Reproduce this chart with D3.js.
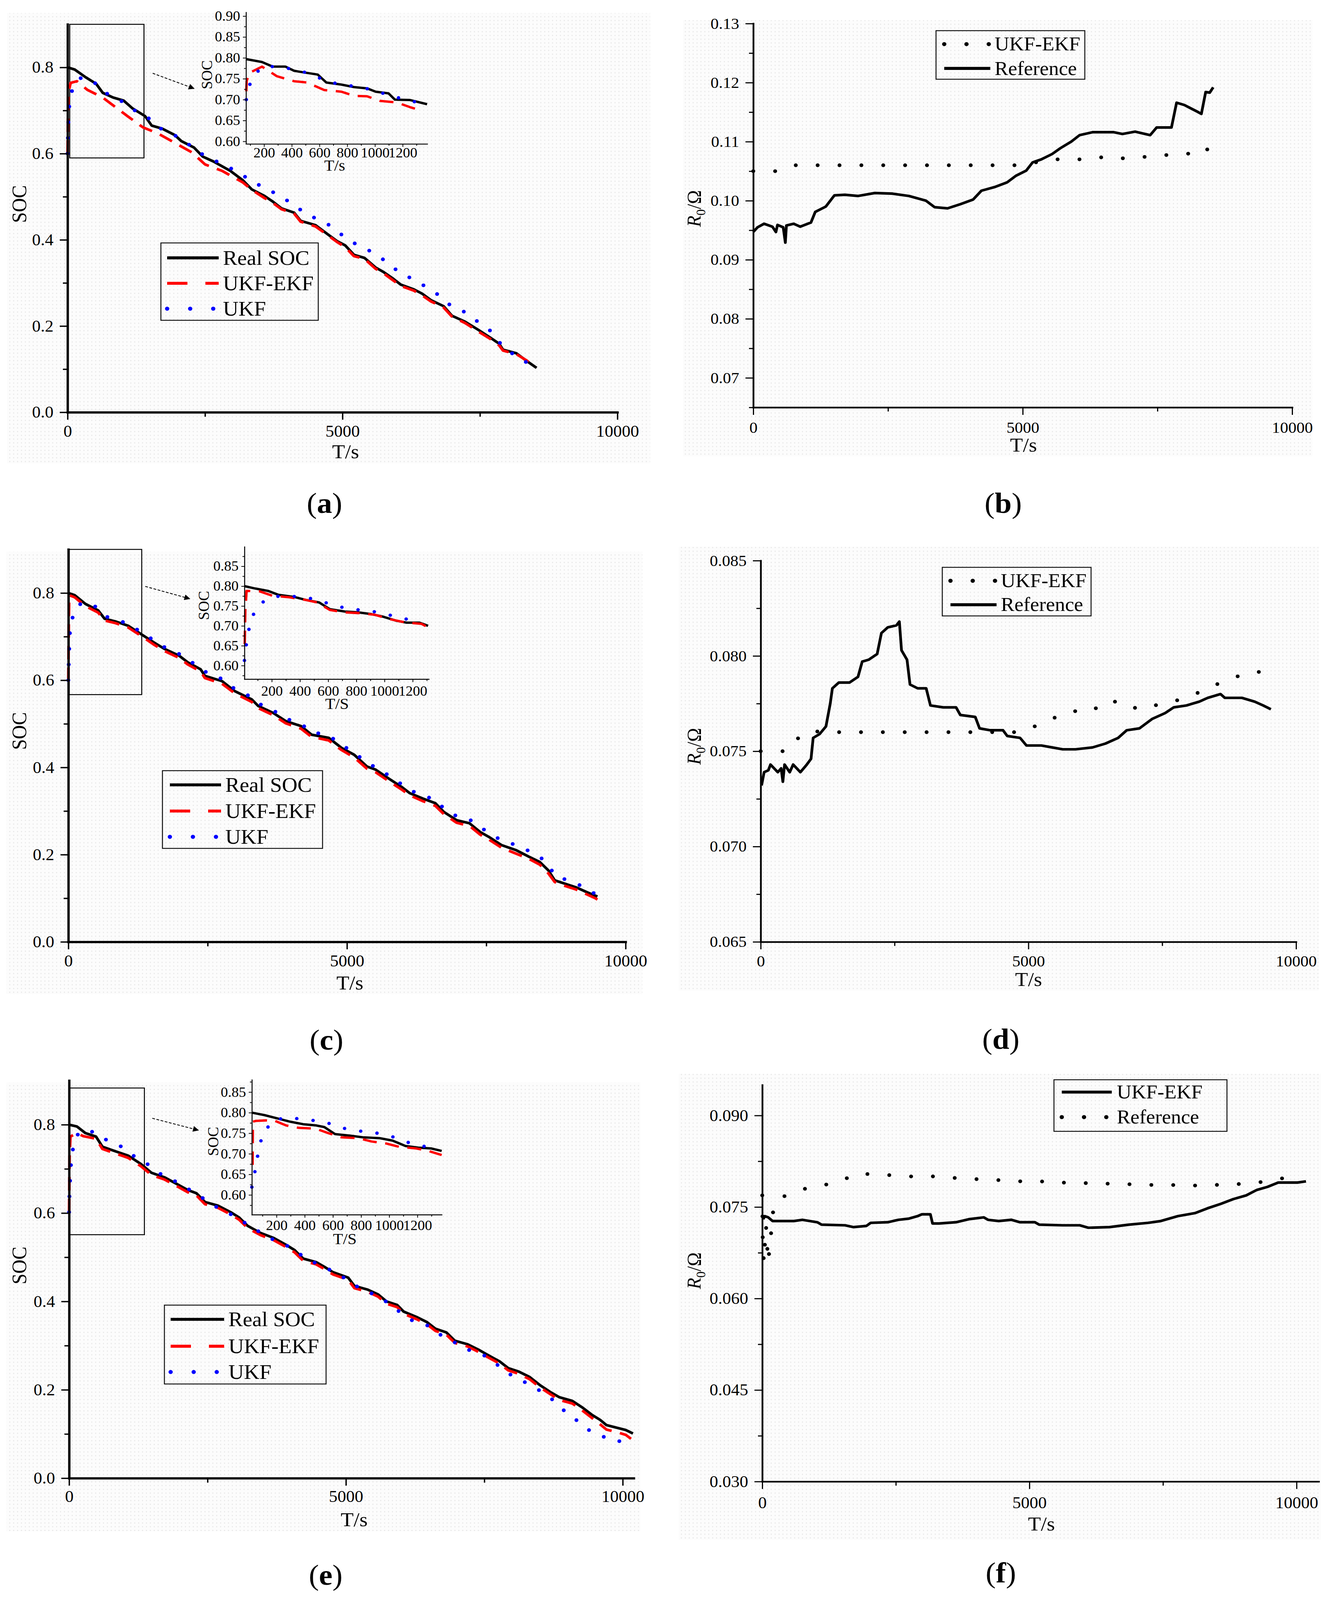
<!DOCTYPE html>
<html>
<head>
<meta charset="utf-8">
<script src="https://cdn.jsdelivr.net/npm/d3@7"></script>
<style>
  html, body { margin: 0; padding: 0; background: #fff; overflow: hidden; }
  svg { display: block; }
</style>
</head>
<body>
<script>
// ---------- data (time in s, value) ----------
// panel (a)
var aRealSOC = [[0,0.800],[130,0.795],[330,0.777],[520,0.762],[640,0.741],[830,0.730],[1020,0.723],[1180,0.705],[1410,0.687],[1530,0.665],[1720,0.658],[1950,0.643],[2070,0.629],[2300,0.614],[2460,0.593],[2650,0.582],[2960,0.560],[3190,0.538],[3350,0.517],[3580,0.502],[3740,0.488],[3890,0.473],[4120,0.463],[4240,0.444],[4510,0.434],[4740,0.412],[4900,0.397],[5050,0.387],[5210,0.365],[5400,0.358],[5600,0.336],[5750,0.325],[5910,0.311],[6060,0.296],[6300,0.285],[6450,0.275],[6610,0.260],[6840,0.246],[6990,0.224],[7230,0.210],[7460,0.192],[7690,0.173],[7850,0.159],[7920,0.145],[8160,0.137],[8350,0.119],[8530,0.103]];
var aUkfEkf = [[0,0.600],[15,0.741],[55,0.764],[170,0.768],[360,0.748],[640,0.730],[870,0.708],[1100,0.686],[1370,0.661],[1640,0.647],[1950,0.625],[2260,0.603],[2500,0.575],[2810,0.560],[3190,0.533],[3350,0.516],[3580,0.497],[3740,0.485],[3890,0.471],[4120,0.461],[4240,0.442],[4510,0.431],[4740,0.410],[4900,0.395],[5050,0.383],[5210,0.362],[5400,0.356],[5600,0.333],[5750,0.322],[5910,0.307],[6060,0.293],[6300,0.282],[6450,0.271],[6610,0.257],[6840,0.243],[6990,0.222],[7230,0.207],[7460,0.188],[7690,0.170],[7850,0.155],[7920,0.143],[8160,0.135],[8350,0.120],[8450,0.110]];
var aUkf = [[0,0.600],[10,0.654],[25,0.705],[90,0.752],[170,0.762],[250,0.777],[480,0.766],[670,0.742],[945,0.725],[1180,0.703],[1450,0.685],[1645,0.661],[1915,0.645],[2150,0.627],[2355,0.605],[2610,0.588],[2880,0.571],[3130,0.556],[3360,0.533],[3635,0.520],[3850,0.500],[4110,0.484],[4320,0.460],[4570,0.447],[4705,0.439],[4915,0.419],[5130,0.397],[5390,0.382],[5620,0.365],[5845,0.345],[6050,0.322],[6320,0.307],[6550,0.288],[6760,0.271],[6980,0.246],[7250,0.231],[7460,0.210],[7680,0.190],[7845,0.163],[8080,0.137],[8310,0.119],[8500,0.101]];
var aInsetReal = [[70,0.797],[185,0.790],[262,0.779],[355,0.779],[417,0.769],[510,0.764],[587,0.760],[649,0.741],[757,0.736],[850,0.730],[943,0.727],[1005,0.719],[1098,0.715],[1144,0.700],[1253,0.699],[1376,0.689]];
var aInsetUkfEkf = [[72,0.720],[75,0.745],[95,0.764],[185,0.779],[293,0.756],[417,0.744],[510,0.741],[634,0.723],[757,0.719],[850,0.709],[943,0.708],[1036,0.697],[1160,0.693],[1253,0.682],[1330,0.674]];
var aInsetUkf = [[72,0.700],[107,0.749],[185,0.779],[308,0.779],[432,0.771],[534,0.762],[649,0.744],[757,0.736],[897,0.730],[1005,0.721],[1113,0.709],[1237,0.699],[1355,0.689]];
var aZoomBox = [40, 1390, 0.59, 0.9];

// panel (b)
var bReference = [[0,0.0947],[80,0.0955],[200,0.0961],[355,0.0956],[420,0.0947],[450,0.0959],[555,0.0955],[595,0.0929],[615,0.0958],[750,0.0961],[870,0.0956],[1070,0.0963],[1150,0.0981],[1345,0.0990],[1505,0.1009],[1700,0.1010],[1940,0.1008],[2255,0.1013],[2575,0.1012],[2890,0.1008],[3205,0.1000],[3365,0.0989],[3605,0.0987],[3840,0.0994],[4080,0.1002],[4235,0.1017],[4475,0.1023],[4710,0.1031],[4870,0.1042],[5065,0.1051],[5185,0.1065],[5345,0.1070],[5545,0.1079],[5700,0.1089],[5900,0.1100],[6055,0.1111],[6295,0.1116],[6690,0.1116],[6850,0.1113],[7085,0.1117],[7365,0.1111],[7485,0.1124],[7760,0.1124],[7855,0.1166],[8000,0.1162],[8235,0.1151],[8315,0.1147],[8395,0.1184],[8470,0.1183],[8535,0.1192]];
var bUkfEkf = [[0,0.1050],[435,0.1050],[500,0.1052],[710,0.1060],[4950,0.1060],[5545,0.1070],[6215,0.1070],[6570,0.1075],[6930,0.1071],[7245,0.1074],[7880,0.1079],[8195,0.1080],[8420,0.1082],[8435,0.1100]];

// panel (c)
var cRealSOC = [[0,0.800],[115,0.795],[306,0.775],[536,0.760],[651,0.741],[842,0.735],[1072,0.725],[1302,0.706],[1531,0.687],[1723,0.672],[1991,0.656],[2144,0.641],[2374,0.625],[2450,0.610],[2757,0.598],[2986,0.575],[3292,0.556],[3407,0.541],[3675,0.525],[3905,0.506],[4173,0.495],[4365,0.475],[4671,0.468],[4900,0.445],[5130,0.429],[5360,0.402],[5513,0.395],[5743,0.375],[5973,0.356],[6126,0.341],[6355,0.329],[6585,0.318],[6738,0.298],[6968,0.279],[7198,0.272],[7389,0.252],[7542,0.241],[7772,0.222],[8040,0.210],[8270,0.195],[8461,0.183],[8614,0.164],[8729,0.141],[8920,0.133],[9112,0.125],[9303,0.114],[9456,0.106],[9495,0.104]];
var cUkfEkf = [[0,0.598],[8,0.729],[15,0.795],[115,0.790],[306,0.770],[536,0.755],[651,0.737],[842,0.731],[1072,0.721],[1302,0.702],[1531,0.682],[1723,0.667],[1991,0.651],[2144,0.636],[2374,0.620],[2450,0.605],[2757,0.592],[2986,0.570],[3292,0.550],[3407,0.536],[3675,0.520],[3905,0.501],[4173,0.489],[4365,0.470],[4671,0.462],[4900,0.440],[5130,0.423],[5360,0.397],[5513,0.389],[5743,0.369],[5973,0.350],[6126,0.336],[6355,0.323],[6585,0.312],[6738,0.293],[6968,0.273],[7198,0.266],[7389,0.246],[7542,0.235],[7772,0.216],[8040,0.202],[8270,0.190],[8461,0.177],[8614,0.157],[8729,0.137],[8920,0.128],[9112,0.120],[9303,0.109],[9456,0.100],[9495,0.097]];
var cUkf = [[0,0.600],[10,0.652],[25,0.706],[90,0.754],[230,0.777],[400,0.775],[536,0.765],[700,0.745],[900,0.737],[1100,0.728],[1302,0.710],[1531,0.692],[1723,0.676],[1991,0.660],[2144,0.646],[2374,0.630],[2500,0.615],[2757,0.603],[2986,0.580],[3292,0.561],[3407,0.547],[3675,0.531],[3905,0.512],[4173,0.500],[4365,0.481],[4671,0.474],[4900,0.451],[5130,0.435],[5360,0.409],[5513,0.401],[5743,0.382],[5973,0.362],[6126,0.348],[6355,0.336],[6585,0.326],[6738,0.306],[6968,0.288],[7198,0.281],[7389,0.262],[7542,0.252],[7772,0.232],[8040,0.222],[8270,0.208],[8461,0.195],[8614,0.177],[8729,0.152],[8920,0.143],[9112,0.135],[9303,0.120],[9456,0.110],[9495,0.108]];
var cInsetReal = [[6,0.800],[82,0.794],[173,0.788],[248,0.778],[355,0.773],[445,0.765],[536,0.759],[612,0.742],[718,0.736],[809,0.734],[900,0.730],[991,0.723],[1082,0.713],[1157,0.708],[1248,0.708],[1309,0.700]];
var cInsetUkfEkf = [[8,0.654],[12,0.738],[21,0.788],[112,0.787],[203,0.776],[324,0.772],[445,0.765],[521,0.759],[612,0.740],[718,0.734],[824,0.732],[930,0.728],[1036,0.717],[1142,0.709],[1263,0.705],[1309,0.696]];
var cInsetUkf = [[6,0.613],[21,0.659],[45,0.705],[82,0.740],[158,0.767],[264,0.776],[400,0.773],[512,0.767],[642,0.751],[764,0.742],[894,0.738],[1006,0.730],[1112,0.720],[1242,0.711]];
var cZoomBox = [15, 1317, 0.567, 0.9];

// panel (d)
var dReference = [[16,0.0732],[64,0.0739],[143,0.0740],[183,0.0743],[319,0.0739],[382,0.0741],[414,0.0734],[446,0.0743],[542,0.0739],[606,0.0743],[741,0.0739],[861,0.0743],[940,0.0746],[980,0.0757],[1100,0.0759],[1219,0.0763],[1299,0.0775],[1339,0.0783],[1458,0.0786],[1657,0.0786],[1817,0.0789],[1896,0.0797],[2016,0.0798],[2175,0.0801],[2255,0.0812],[2374,0.0815],[2534,0.0816],[2590,0.0818],[2630,0.0803],[2733,0.0798],[2789,0.0785],[2932,0.0783],[3091,0.0783],[3171,0.0774],[3410,0.0773],[3649,0.0773],[3729,0.0769],[4008,0.0768],[4088,0.0762],[4287,0.0761],[4526,0.0761],[4605,0.0758],[4845,0.0757],[4964,0.0753],[5243,0.0753],[5442,0.0752],[5641,0.0751],[5880,0.0751],[6199,0.0752],[6438,0.0754],[6677,0.0757],[6836,0.0761],[7075,0.0762],[7315,0.0767],[7554,0.0770],[7713,0.0773],[7952,0.0774],[8191,0.0776],[8350,0.0778],[8589,0.0780],[8669,0.0778],[8988,0.0778],[9227,0.0776],[9386,0.0774],[9530,0.0772]];
var dUkfEkf = [[0,0.0750],[462,0.0750],[622,0.0756],[821,0.0758],[980,0.0761],[1100,0.0760],[4845,0.0760],[5203,0.0764],[5522,0.0768],[5800,0.0771],[6199,0.0771],[6398,0.0776],[6797,0.0776],[7036,0.0772],[7355,0.0774],[7713,0.0776],[7992,0.0779],[8311,0.0782],[8510,0.0785],[8789,0.0788],[9068,0.0791],[9466,0.0792]];

// panel (e)
var eRealSOC = [[0,0.800],[139,0.796],[293,0.781],[486,0.773],[602,0.750],[833,0.740],[1065,0.730],[1296,0.711],[1489,0.691],[1720,0.681],[1913,0.668],[2145,0.652],[2299,0.645],[2454,0.625],[2685,0.617],[2917,0.602],[3071,0.590],[3225,0.571],[3457,0.555],[3688,0.544],[3920,0.528],[4074,0.516],[4228,0.497],[4460,0.489],[4614,0.478],[4768,0.466],[5039,0.454],[5154,0.435],[5386,0.427],[5579,0.416],[5733,0.400],[5926,0.392],[6042,0.377],[6273,0.365],[6466,0.353],[6620,0.338],[6813,0.330],[6968,0.311],[7199,0.303],[7392,0.291],[7546,0.280],[7778,0.264],[7932,0.249],[8125,0.241],[8318,0.229],[8511,0.210],[8704,0.194],[8858,0.183],[9089,0.175],[9282,0.159],[9437,0.144],[9591,0.132],[9707,0.120],[9900,0.114],[10054,0.109],[10185,0.101]];
var eUkfEkf = [[0,0.602],[8,0.726],[23,0.773],[139,0.781],[255,0.774],[486,0.768],[602,0.745],[833,0.735],[1065,0.725],[1296,0.706],[1489,0.686],[1720,0.676],[1913,0.663],[2145,0.647],[2299,0.640],[2454,0.620],[2685,0.612],[2917,0.597],[3071,0.585],[3225,0.566],[3457,0.550],[3688,0.539],[3920,0.523],[4074,0.511],[4228,0.492],[4460,0.484],[4614,0.473],[4768,0.461],[5039,0.449],[5154,0.430],[5386,0.422],[5579,0.411],[5733,0.395],[5926,0.387],[6042,0.372],[6273,0.360],[6466,0.348],[6620,0.333],[6813,0.325],[6968,0.306],[7199,0.298],[7392,0.286],[7546,0.275],[7778,0.259],[7932,0.244],[8125,0.236],[8318,0.224],[8511,0.205],[8704,0.189],[8858,0.177],[9089,0.169],[9282,0.152],[9437,0.137],[9591,0.122],[9707,0.110],[9900,0.104],[10054,0.098],[10150,0.089]];
var eUkf = [[0,0.602],[8,0.652],[31,0.707],[77,0.753],[177,0.784],[448,0.784],[679,0.765],[949,0.750],[1181,0.728],[1412,0.711],[1644,0.689],[1914,0.672],[2145,0.655],[2377,0.637],[2608,0.617],[2840,0.603],[3110,0.583],[3364,0.563],[3611,0.544],[3843,0.532],[4074,0.517],[4267,0.497],[4537,0.482],[4768,0.468],[5015,0.450],[5231,0.431],[5502,0.416],[5772,0.396],[6003,0.373],[6196,0.357],[6466,0.346],[6736,0.322],[6968,0.307],[7199,0.291],[7469,0.280],[7700,0.260],[7932,0.237],[8179,0.221],[8434,0.203],[8665,0.186],[8873,0.159],[9089,0.140],[9321,0.113],[9552,0.099],[9822,0.085],[10092,0.082]];
var eInsetReal = [[25,0.800],[115,0.794],[206,0.786],[297,0.778],[388,0.772],[479,0.769],[539,0.765],[615,0.748],[721,0.744],[812,0.740],[933,0.738],[1024,0.732],[1115,0.719],[1206,0.715],[1297,0.713],[1372,0.707]];
var eInsetUkfEkf = [[30,0.673],[32,0.778],[55,0.780],[176,0.782],[267,0.769],[358,0.763],[479,0.761],[570,0.750],[661,0.740],[782,0.738],[873,0.730],[979,0.725],[1070,0.717],[1191,0.713],[1267,0.708],[1372,0.697]];
var eInsetUkf = [[25,0.619],[49,0.661],[70,0.703],[100,0.747],[176,0.782],[282,0.788],[412,0.783],[539,0.778],[661,0.763],[797,0.755],[918,0.750],[1039,0.740],[1170,0.723],[1297,0.715]];
var eZoomBox = [7, 1360, 0.551, 0.883];

// panel (f)
var fUkfEkf = [[16,0.0730],[48,0.0735],[112,0.0733],[192,0.0727],[591,0.0727],[751,0.0729],[1030,0.0725],[1110,0.0721],[1549,0.0720],[1709,0.0717],[1949,0.0719],[2029,0.0724],[2348,0.0725],[2548,0.0729],[2747,0.0731],[2907,0.0735],[2987,0.0738],[3147,0.0738],[3187,0.0723],[3307,0.0723],[3626,0.0725],[3866,0.0730],[4145,0.0733],[4225,0.0729],[4425,0.0727],[4664,0.0729],[4824,0.0725],[5103,0.0725],[5183,0.0721],[5623,0.0720],[5942,0.0720],[6102,0.0716],[6501,0.0717],[6861,0.0721],[7220,0.0724],[7460,0.0727],[7779,0.0735],[8099,0.0740],[8338,0.0748],[8578,0.0755],[8818,0.0763],[9057,0.0769],[9257,0.0778],[9457,0.0783],[9656,0.0790],[10016,0.0790],[10176,0.0792]];
var fReference = [[0,0.0769],[10,0.0690],[30,0.0660],[70,0.0719],[110,0.0660],[150,0.0693],[210,0.0749],[335,0.0765],[630,0.0775],[910,0.0783],[1215,0.0787],[1485,0.0792],[1710,0.0804],[2030,0.0804],[2430,0.0802],[2765,0.0800],[3085,0.0801],[3465,0.0798],[3785,0.0797],[4120,0.0795],[4440,0.0794],[4840,0.0792],[5200,0.0792],[5605,0.0790],[6140,0.0789],[6565,0.0788],[6980,0.0787],[7340,0.0786],[7700,0.0786],[8020,0.0785],[8420,0.0786],[8820,0.0787],[9135,0.0789],[9455,0.0792],[9735,0.0797],[10095,0.0794]];

// ticks
var timeTicks = [0, 5000, 10000];
var timeMinor = [2500, 7500];
var socTicks = [0, 0.2, 0.4, 0.6, 0.8];
var socMinor = [0.1, 0.3, 0.5, 0.7];
var insetTimeTicks = [200, 400, 600, 800, 1000, 1200];
var insetTimeMinor = [100, 300, 500, 700, 900, 1100, 1300];
var insetSocTicks = [0.60, 0.65, 0.70, 0.75, 0.80, 0.85, 0.90];
var insetSocMinor = [0.575, 0.625, 0.675, 0.725, 0.775, 0.825, 0.875];
var bTicks = [0.07, 0.08, 0.09, 0.10, 0.11, 0.12, 0.13];
var bMinor = [0.065, 0.075, 0.085, 0.095, 0.105, 0.115, 0.125];
var dTicks = [0.065, 0.070, 0.075, 0.080, 0.085];
var dMinor = [0.0675, 0.0725, 0.0775, 0.0825];
var fTicks = [0.030, 0.045, 0.060, 0.075, 0.090];
var fMinor = [0.0375, 0.0525, 0.0675, 0.0825];

// ---------- drawing ----------
var W = 3411, H = 4281;
var FONT = "'Liberation Serif','Times New Roman',serif";

var styles = {
  real:   {stroke: "#000", w: 7, dash: null, cap: "butt", legDash: null},
  ukfekf: {stroke: "#ff0000", w: 7, dash: "36 22", cap: "butt", legDash: "52 46"},
  ukf:    {stroke: "#0000ff", w: 10, dash: "0 42", cap: "round", legDash: "0 59"},
  solidK: {stroke: "#000", w: 7, dash: null, cap: "butt", legDash: null},
  dotK:   {stroke: "#000", w: 10, dash: "0 56", cap: "round", legDash: "0 57"}
};

// fit the whole figure into whatever viewport the page gets
var vw = window.innerWidth || W, vh = window.innerHeight || H;
var svg = d3.select("body").append("svg")
    .attr("width", vw)
    .attr("height", vh)
    .attr("viewBox", "0 0 " + W + " " + H)
    .attr("preserveAspectRatio", "none");

var defs = svg.append("defs");
var pat = defs.append("pattern")
    .attr("id", "dots")
    .attr("width", 10).attr("height", 10)
    .attr("patternUnits", "userSpaceOnUse");
pat.append("rect").attr("width", 10).attr("height", 10).attr("fill", "#fcfcfc");
pat.append("circle").attr("cx", 5).attr("cy", 5).attr("r", 1.4).attr("fill", "#e2e2e2");

defs.append("marker")
    .attr("id", "arrow")
    .attr("viewBox", "0 0 10 10")
    .attr("refX", 9).attr("refY", 5)
    .attr("markerWidth", 7).attr("markerHeight", 7)
    .attr("markerUnits", "strokeWidth")
    .attr("orient", "auto")
    .append("path").attr("d", "M0,0L10,5L0,10z").attr("fill", "#000");

svg.append("rect").attr("width", W).attr("height", H).attr("fill", "#fff");

function styleAxis(sel, domainW, tickW, font) {
  sel.attr("font-family", FONT).attr("font-size", font);
  sel.select(".domain").attr("stroke", "#000").attr("stroke-width", domainW).attr("stroke-linecap", "square");
  sel.selectAll(".tick line").attr("stroke", "#000").attr("stroke-width", tickW);
  sel.selectAll(".tick text").attr("fill", "#000");
}

function addAxes(g, x, y, p) {
  var xa = g.append("g").attr("transform", "translate(0," + p.bottom + ")")
      .call(d3.axisBottom(x).tickValues(p.xTicks).tickFormat(p.xFmt)
        .tickSize(p.tickLen).tickSizeOuter(0).tickPadding(p.xPad));
  styleAxis(xa, p.axisW, p.tickW, p.tickFont);
  var xm = g.append("g").attr("transform", "translate(0," + p.bottom + ")")
      .call(d3.axisBottom(x).tickValues(p.xMinor).tickFormat("").tickSize(p.minorLen).tickSizeOuter(0));
  xm.select(".domain").remove();
  styleAxis(xm, 0, p.tickW, p.tickFont);

  var ya = g.append("g").attr("transform", "translate(" + p.left + ",0)")
      .call(d3.axisLeft(y).tickValues(p.yTicks).tickFormat(d3.format(p.yFmt))
        .tickSize(p.tickLen).tickSizeOuter(0).tickPadding(p.yPad));
  styleAxis(ya, p.axisW, p.tickW, p.tickFont);
  var ym = g.append("g").attr("transform", "translate(" + p.left + ",0)")
      .call(d3.axisLeft(y).tickValues(p.yMinor).tickFormat("").tickSize(p.minorLen).tickSizeOuter(0));
  ym.select(".domain").remove();
  styleAxis(ym, 0, p.tickW, p.tickFont);
}

function addSeries(g, x, y, series, scaleW) {
  var line = d3.line().x(function(d) { return x(d[0]); }).y(function(d) { return y(d[1]); });
  series.forEach(function(s) {
    var st = styles[s.style];
    var k = scaleW || 1;
    g.append("path").datum(s.data)
      .attr("d", line)
      .attr("fill", "none")
      .attr("stroke", st.stroke)
      .attr("stroke-width", st.w * k)
      .attr("stroke-linecap", st.cap)
      .attr("stroke-linejoin", "round")
      .attr("stroke-dasharray", st.dash);
  });
}

function addLegend(g, L) {
  g.append("rect")
    .attr("x", L.box[0]).attr("y", L.box[1])
    .attr("width", L.box[2] - L.box[0]).attr("height", L.box[3] - L.box[1])
    .attr("fill", "none").attr("stroke", "#111").attr("stroke-width", 2.5);
  L.items.forEach(function(it, i) {
    var st = styles[it.style];
    var yy = L.rows[i];
    g.append("line")
      .attr("x1", L.sample[0]).attr("x2", L.sample[1])
      .attr("y1", yy).attr("y2", yy)
      .attr("stroke", st.stroke).attr("stroke-width", st.w + 1)
      .attr("stroke-linecap", st.cap)
      .attr("stroke-dasharray", st.legDash);
    g.append("text")
      .attr("x", L.textX).attr("y", yy + L.font * 0.33)
      .attr("font-family", FONT).attr("font-size", L.font)
      .attr("fill", "#000")
      .text(it.label);
  });
}

function addYLabelR0(g, pos) {
  var t = g.append("text")
    .attr("transform", "translate(" + pos[0] + "," + pos[1] + ") rotate(-90)")
    .attr("text-anchor", "middle")
    .attr("font-family", FONT).attr("font-size", 50).attr("fill", "#000");
  t.append("tspan").attr("font-style", "italic").text("R");
  t.append("tspan").attr("font-size", 34).attr("dy", 12).text("0");
  t.append("tspan").attr("dy", -12).text("/\u03A9");
}

function addPlainLabel(g, text, pos, font, rotate) {
  g.append("text")
    .attr("transform", "translate(" + pos[0] + "," + pos[1] + ")" + (rotate ? " rotate(-90)" : ""))
    .attr("text-anchor", "middle")
    .attr("font-family", FONT).attr("font-size", font).attr("fill", "#000")
    .text(text);
}

function addPanelLabel(letter, pos) {
  var t = svg.append("text")
    .attr("x", pos[0]).attr("y", pos[1])
    .attr("text-anchor", "middle")
    .attr("font-family", FONT).attr("font-size", 78).attr("fill", "#000");
  t.append("tspan").text("(");
  t.append("tspan").attr("font-weight", "bold").text(letter);
  t.append("tspan").text(")");
}

function drawPanel(p) {
  var g = svg.append("g");
  g.append("rect")
    .attr("x", p.bg[0]).attr("y", p.bg[1])
    .attr("width", p.bg[2] - p.bg[0]).attr("height", p.bg[3] - p.bg[1])
    .attr("fill", "url(#dots)");

  var x = d3.scaleLinear().domain(p.xDomain).range([p.left, p.right]);
  var y = d3.scaleLinear().domain(p.yDomain).range([p.bottom, p.top]);

  if (p.zoomBox) {
    var zb = p.zoomBox;
    g.append("rect")
      .attr("x", x(zb[0])).attr("y", y(zb[3]))
      .attr("width", x(zb[1]) - x(zb[0])).attr("height", y(zb[2]) - y(zb[3]))
      .attr("fill", "none").attr("stroke", "#000").attr("stroke-width", 2.5);
  }

  addSeries(g, x, y, p.series);
  addAxes(g, x, y, p);

  if (p.inset) {
    var q = p.inset;
    var xi = d3.scaleLinear().domain(q.xDomain).range([q.left, q.right]);
    var yi = d3.scaleLinear().domain(q.yDomain).range([q.bottom, q.top]);
    q.yTicks = insetSocTicks.filter(function(v) { return v >= q.yDomain[0] && v <= q.yDomain[1] + 1e-9; });
    q.yMinor = insetSocMinor.filter(function(v) { return v >= q.yDomain[0] && v <= q.yDomain[1]; });
    addSeries(g, xi, yi, q.series, 0.9);
    addAxes(g, xi, yi, q);
    addPlainLabel(g, "SOC", q.ylab, 40, true);
    addPlainLabel(g, q.xlabText, q.xlab, 42, false);
    g.append("line")
      .attr("x1", q.arrow[0]).attr("y1", q.arrow[1])
      .attr("x2", q.arrow[2]).attr("y2", q.arrow[3])
      .attr("stroke", "#000").attr("stroke-width", 2.2)
      .attr("stroke-dasharray", "7 4")
      .attr("marker-end", "url(#arrow)");
  }

  if (p.yLabel === "R0") addYLabelR0(g, p.ylab);
  else addPlainLabel(g, p.yLabel, p.ylab, 52, true);
  addPlainLabel(g, "T/s", p.xlab, 54, false);

  addLegend(g, p.legend);
}

var socBase = {
  xFmt: d3.format("d"), yFmt: ".1f",
  xTicks: timeTicks, xMinor: timeMinor, yTicks: socTicks, yMinor: socMinor,
  tickLen: 20, minorLen: 12, axisW: 6, tickW: 3.5, tickFont: 44, yPad: 16
};
var rBase = {
  xFmt: d3.format("d"),
  xTicks: timeTicks, xMinor: timeMinor,
  tickLen: 20, minorLen: 11, axisW: 4.5, tickW: 3, tickFont: 42, yPad: 16
};
var insetBase = {
  xFmt: d3.format("d"), yFmt: ".2f",
  xTicks: insetTimeTicks, xMinor: insetTimeMinor,
  tickLen: 8, minorLen: 5, axisW: 2.5, tickW: 2, tickFont: 37, yPad: 7
};

var socLegendItems = [
  {style: "real", label: "Real SOC"},
  {style: "ukfekf", label: "UKF-EKF"},
  {style: "ukf", label: "UKF"}
];

// (a)
drawPanel(Object.assign({}, socBase, {
  bg: [18, 35, 1665, 1240],
  left: 173, right: 1581, top: 65, bottom: 1103,
  xDomain: [0, 10000], yDomain: [0, 0.9], xPad: 14.5,
  series: [
    {style: "real", data: aRealSOC},
    {style: "ukfekf", data: aUkfEkf},
    {style: "ukf", data: aUkf}
  ],
  zoomBox: aZoomBox,
  inset: Object.assign({}, insetBase, {
    left: 630, right: 1094, top: 33, bottom: 385,
    xDomain: [70, 1377], yDomain: [0.594, 0.909], xPad: 2,
    series: [
      {style: "real", data: aInsetReal},
      {style: "ukfekf", data: aInsetUkfEkf},
      {style: "ukf", data: aInsetUkf}
    ],
    ylab: [543, 200], xlab: [857, 457], xlabText: "T/s",
    arrow: [391, 196, 497, 237]
  }),
  yLabel: "SOC", ylab: [67, 546], xlab: [885, 1226],
  legend: {box: [412, 650, 815, 857], rows: [690, 758, 826], sample: [428, 560], textX: 571, font: 55, items: socLegendItems}
}));

// (b)
drawPanel(Object.assign({}, rBase, {
  bg: [1749, 54, 3361, 1221],
  left: 1929, right: 3309, top: 63, bottom: 1090,
  xDomain: [0, 10000], yDomain: [0.065, 0.13], xPad: 18,
  yTicks: bTicks, yMinor: bMinor, yFmt: ".2f",
  series: [
    {style: "solidK", data: bReference},
    {style: "dotK", data: bUkfEkf}
  ],
  yLabel: "R0", ylab: [1794, 558], xlab: [2621, 1208],
  legend: {box: [2397, 82, 2778, 212], rows: [118, 183], sample: [2418, 2536], textX: 2547, font: 52,
    items: [{style: "dotK", label: "UKF-EKF"}, {style: "solidK", label: "Reference"}]}
}));

// (c)
drawPanel(Object.assign({}, socBase, {
  bg: [16, 1476, 1645, 2660],
  left: 175, right: 1602, top: 1470, bottom: 2520,
  xDomain: [0, 10000], yDomain: [0, 0.9], xPad: 14.5,
  series: [
    {style: "real", data: cRealSOC},
    {style: "ukfekf", data: cUkfEkf},
    {style: "ukf", data: cUkf}
  ],
  zoomBox: cZoomBox,
  inset: Object.assign({}, insetBase, {
    left: 626, right: 1098, top: 1463, bottom: 1817,
    xDomain: [6, 1314], yDomain: [0.566, 0.899], xPad: 10,
    series: [
      {style: "real", data: cInsetReal},
      {style: "ukfekf", data: cInsetUkfEkf},
      {style: "ukf", data: cInsetUkf}
    ],
    ylab: [535, 1620], xlab: [863, 1897], xlabText: "T/S",
    arrow: [372, 1569, 486, 1602]
  }),
  yLabel: "SOC", ylab: [67, 1956], xlab: [896, 2647],
  legend: {box: [416, 2062, 826, 2270], rows: [2100, 2170, 2239], sample: [435, 566], textX: 577, font: 55, items: socLegendItems}
}));

// (d)
drawPanel(Object.assign({}, rBase, {
  bg: [1738, 1463, 3377, 2651],
  left: 1948, right: 3319, top: 1500, bottom: 2520,
  xDomain: [0, 10000], yDomain: [0.065, 0.085], xPad: 16,
  yTicks: dTicks, yMinor: dMinor, yFmt: ".3f",
  series: [
    {style: "solidK", data: dReference},
    {style: "dotK", data: dUkfEkf}
  ],
  yLabel: "R0", ylab: [1794, 1997], xlab: [2634, 2638],
  legend: {box: [2413, 1518, 2794, 1648], rows: [1554, 1618], sample: [2434, 2552], textX: 2563, font: 52,
    items: [{style: "dotK", label: "UKF-EKF"}, {style: "solidK", label: "Reference"}]}
}));

// (e)
drawPanel(Object.assign({}, socBase, {
  bg: [16, 2896, 1640, 4097],
  left: 177, right: 1623, top: 2891, bottom: 3955,
  xDomain: [0, 10200], yDomain: [0, 0.9], xPad: 12.5,
  series: [
    {style: "real", data: eRealSOC},
    {style: "ukfekf", data: eUkfEkf},
    {style: "ukf", data: eUkf}
  ],
  zoomBox: eZoomBox,
  inset: Object.assign({}, insetBase, {
    left: 645, right: 1131, top: 2889, bottom: 3250,
    xDomain: [25, 1372], yDomain: [0.552, 0.88], xPad: 7,
    series: [
      {style: "real", data: eInsetReal},
      {style: "ukfekf", data: eInsetUkfEkf},
      {style: "ukf", data: eInsetUkf}
    ],
    ylab: [559, 3054], xlab: [883, 3329], xlabText: "T/S",
    arrow: [390, 2992, 508, 3024]
  }),
  yLabel: "SOC", ylab: [67, 3386], xlab: [907, 4083],
  legend: {box: [421, 3492, 835, 3703], rows: [3530, 3602, 3671], sample: [437, 574], textX: 585, font: 55, items: socLegendItems}
}));

// (f)
drawPanel(Object.assign({}, rBase, {
  bg: [1738, 2873, 3383, 4120],
  left: 1952, right: 3377, top: 2903, bottom: 3964,
  xDomain: [0, 10415], yDomain: [0.03, 0.095], xPad: 20,
  yTicks: fTicks, yMinor: fMinor, yFmt: ".3f", tickFont: 44,
  series: [
    {style: "solidK", data: fUkfEkf},
    {style: "dotK", data: fReference}
  ],
  yLabel: "R0", ylab: [1794, 3400], xlab: [2667, 4095],
  legend: {box: [2699, 2889, 3142, 3027], rows: [2922, 2989], sample: [2719, 2847], textX: 2860, font: 52,
    items: [{style: "solidK", label: "UKF-EKF"}, {style: "dotK", label: "Reference"}]}
}));

addPanelLabel("a", [831, 1372]);
addPanelLabel("b", [2569, 1372]);
addPanelLabel("c", [836, 2808]);
addPanelLabel("d", [2563, 2806]);
addPanelLabel("e", [834, 4240]);
addPanelLabel("f", [2563, 4234]);
</script>
</body>
</html>
